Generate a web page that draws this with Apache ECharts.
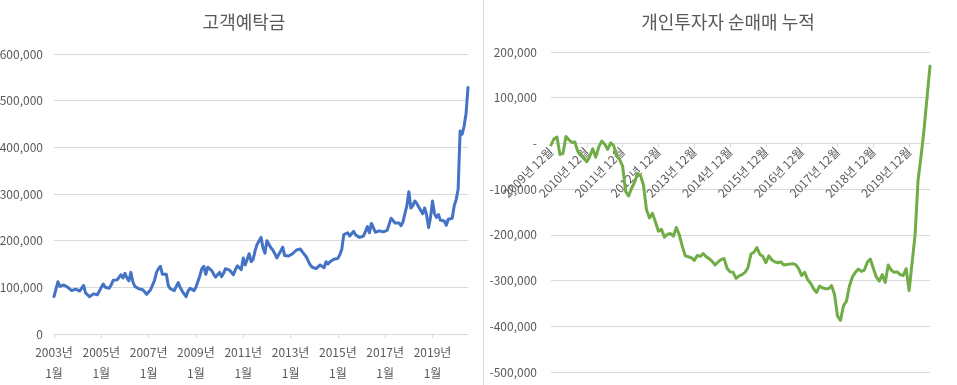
<!DOCTYPE html>
<html>
<head>
<meta charset="utf-8">
<script src="https://cdn.jsdelivr.net/npm/echarts@6/dist/echarts.min.js"></script>
<style>
html,body{margin:0;padding:0;background:#fff;}
#c{width:957px;height:385px;}
</style>
</head>
<body>
<div id="c"></div>
<script>
// ---- Data ----
const depositTitle = '고객예탁금';
const netTitle = '개인투자자 순매매 누적';
const depositStart = [2003, 1];   // first month of deposit series
const netStart = [2009, 12];      // first month of net-buy series

const depositValues = [
  80000,80000,112000,102000,100000,105000,103000,100000,97000,93000,97000,96000,
  96000,92000,90000,104000,88000,84000,80000,84000,86000,82000,84000,82000,
  100000,107000,100000,96000,98000,105000,115000,112000,116000,118000,127000,120000,
  130000,120000,114000,132000,112000,102000,98000,97000,95000,95000,92000,85000,
  84000,95000,99000,115000,132000,140000,145000,128000,126000,128000,103000,97000,
  96000,93000,97000,110000,100000,92000,88000,80000,92000,98000,98000,93000,
  100000,103000,125000,140000,145000,128000,143000,140000,136000,128000,122000,120000,
  132000,123000,130000,140000,138000,137000,137000,127000,138000,146000,148000,138000,
  163000,148000,160000,172000,155000,160000,178000,192000,188000,207000,185000,173000,
  200000,198000,185000,180000,172000,163000,163000,178000,186000,168000,170000,167000,
  170000,172000,176000,180000,184000,182000,176000,175000,165000,156000,148000,143000,
  140000,140000,138000,148000,147000,142000,155000,150000,155000,157000,160000,161000,
  162000,170000,182000,213000,212000,217000,210000,214000,220000,212000,209000,207000,
  205000,210000,220000,230000,217000,237000,228000,218000,219000,221000,217000,219000,
  219000,222000,220000,248000,245000,238000,240000,238000,232000,240000,258000,275000,
  305000,270000,275000,285000,280000,272000,275000,258000,270000,255000,228000,250000,
  285000,258000,250000,256000,244000,246000,242000,233000,246000,250000,248000,275000,
  288000,310000,435000,428000,445000,472000,528000
];

const netValues = [
  -3000,10000,14000,-24000,-22000,15000,8000,2000,3000,-18000,-26000,-33000,
  -40000,-28000,-12000,-30000,-8000,5000,-2000,-13000,1000,-5000,-28000,-35000,
  -50000,-105000,-115000,-98000,-85000,-66000,-70000,-92000,-145000,-163000,-153000,-172000,
  -192000,-188000,-205000,-199000,-197000,-203000,-184000,-200000,-225000,-246000,-248000,-250000,
  -256000,-245000,-247000,-241000,-248000,-252000,-258000,-266000,-259000,-254000,-252000,-273000,
  -281000,-282000,-295000,-290000,-287000,-282000,-272000,-242000,-238000,-228000,-243000,-247000,
  -261000,-246000,-255000,-259000,-261000,-259000,-266000,-265000,-264000,-263000,-265000,-274000,
  -289000,-282000,-298000,-306000,-318000,-326000,-312000,-316000,-318000,-318000,-311000,-330000,
  -378000,-387000,-355000,-345000,-312000,-292000,-282000,-275000,-280000,-277000,-260000,-253000,
  -273000,-292000,-301000,-287000,-304000,-266000,-277000,-282000,-281000,-287000,-289000,-274000,
  -322000,-261000,-200000,-80000,-28000,30000,100000,169000
];

const depositAxis = {min: 0, max: 600000, step: 100000};
const netAxis = {min: -500000, max: 200000, step: 100000};

function monthCats(start, n) {
  const out = [];
  let y = start[0], m = start[1];
  for (let i = 0; i < n; i++) {
    out.push(y + '-' + m);
    m++; if (m > 12) { m = 1; y++; }
  }
  return out;
}
const depositCats = monthCats(depositStart, depositValues.length);
const netCats = monthCats(netStart, netValues.length);

// ---- Layout ----
const FONT = '"Noto Sans CJK KR", "Noto Sans", sans-serif';
const TXT = '#595959';
const GRID = '#d9d9d9';
const fmtNum = v => v.toLocaleString('en-US');

const g1 = {left: 54, top: 54, width: 414, height: 280};
const g2 = {left: 551, top: 52, width: 379, height: 320};
// move the category axis of the right chart up to the zero value line
const zeroOffset = -g2.height * (0 - netAxis.min) / (netAxis.max - netAxis.min);

const chart = echarts.init(document.getElementById('c'), null, {renderer: 'canvas'});
chart.setOption({
  animation: false,
  textStyle: {fontFamily: FONT},
  title: [
    {text: depositTitle, left: 239, top: 8, textAlign: 'center',
     textStyle: {fontFamily: FONT, fontSize: 18, fontWeight: 'normal', color: TXT}},
    {text: netTitle, left: 723, top: 8, textAlign: 'center',
     textStyle: {fontFamily: FONT, fontSize: 18, fontWeight: 'normal', color: TXT}}
  ],
  graphic: [
    {type: 'line', shape: {x1: 483.5, y1: 0, x2: 483.5, y2: 385},
     style: {stroke: GRID, lineWidth: 1}}
  ],
  grid: [
    Object.assign({containLabel: false, outerBoundsMode: 'none'}, g1),
    Object.assign({containLabel: false, outerBoundsMode: 'none'}, g2)
  ],
  xAxis: [
    {type: 'category', gridIndex: 0, data: depositCats, boundaryGap: false,
     axisLine: {lineStyle: {color: GRID}},
     axisTick: {show: true, interval: 23, length: 4, lineStyle: {color: GRID}},
     axisLabel: {interval: 23, color: TXT, fontSize: 12, fontFamily: FONT, margin: 8, lineHeight: 21,
       formatter: v => { const p = v.split('-'); return p[0] + '년\n' + p[1] + '월'; }}},
    {type: 'category', gridIndex: 1, data: netCats, boundaryGap: false,
     position: 'bottom', offset: zeroOffset,
     axisLine: {onZero: false, lineStyle: {color: GRID}},
     axisTick: {show: true, interval: 11, length: 4, lineStyle: {color: GRID}},
     axisLabel: {interval: 11, rotate: 45, color: TXT, fontSize: 12, fontFamily: FONT, margin: 6,
       formatter: v => { const p = v.split('-'); return p[0] + '년 ' + p[1] + '월'; }}}
  ],
  yAxis: [
    {type: 'value', gridIndex: 0, min: depositAxis.min, max: depositAxis.max, interval: depositAxis.step,
     axisLine: {show: false}, axisTick: {show: false},
     splitLine: {lineStyle: {color: GRID}},
     axisLabel: {color: TXT, fontSize: 12, fontFamily: FONT, margin: 11, formatter: fmtNum}},
    {type: 'value', gridIndex: 1, min: netAxis.min, max: netAxis.max, interval: netAxis.step,
     axisLine: {show: false}, axisTick: {show: false},
     splitLine: {lineStyle: {color: GRID}},
     axisLabel: {color: TXT, fontSize: 12, fontFamily: FONT, margin: 14,
       formatter: v => v === 0 ? '-' : fmtNum(v)}}
  ],
  series: [
    {type: 'line', xAxisIndex: 0, yAxisIndex: 0, data: depositValues, showSymbol: false,
     lineStyle: {color: '#4472C4', width: 3, join: 'round', cap: 'round'}},
    {type: 'line', xAxisIndex: 1, yAxisIndex: 1, data: netValues, showSymbol: false, z: 3,
     lineStyle: {color: '#70AD47', width: 3, join: 'round', cap: 'round'}}
  ]
});
</script>
</body>
</html>
